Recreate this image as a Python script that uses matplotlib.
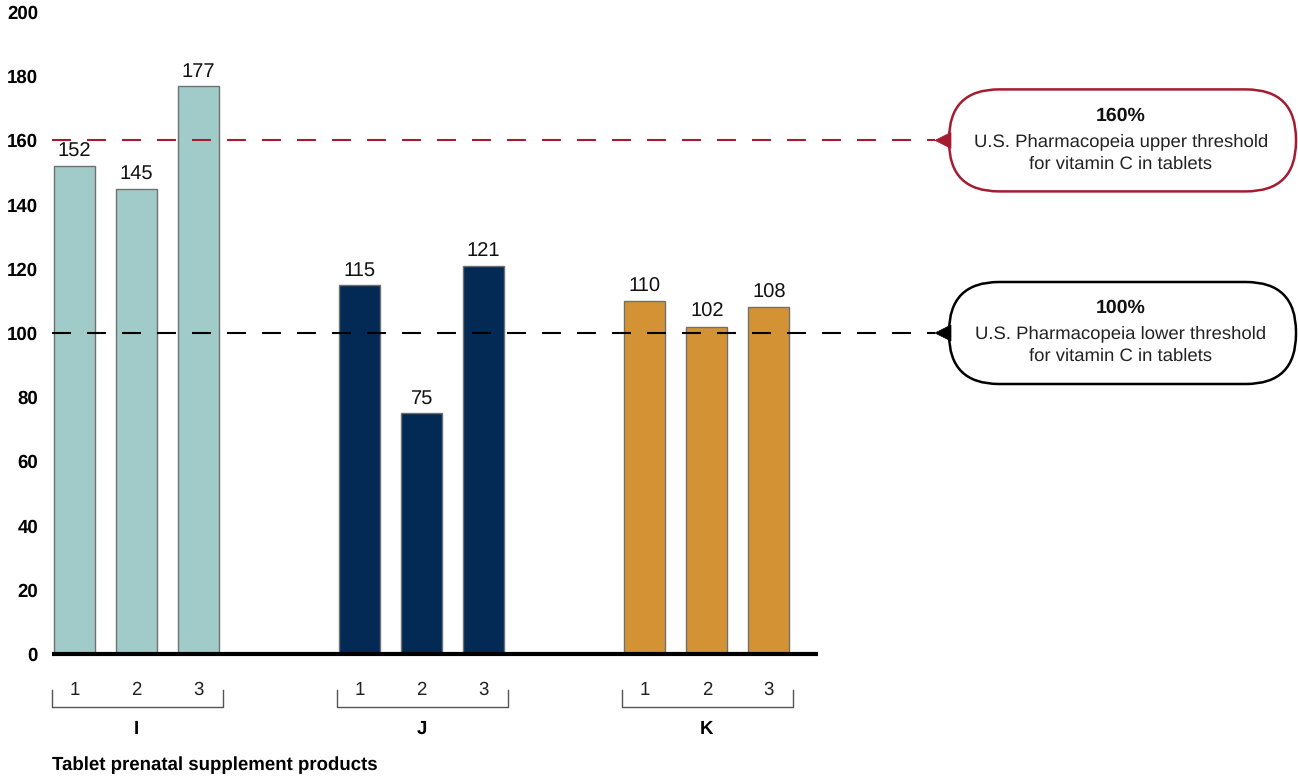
import matplotlib
matplotlib.use("Agg")
import matplotlib.pyplot as plt
from matplotlib.patches import FancyBboxPatch, Polygon

plt.rcParams['font.family'] = ['Liberation Sans', 'DejaVu Sans']
plt.rcParams['text.hinting'] = 'no_hinting'

groups = ["I", "J", "K"]
products = ["1", "2", "3"]
values = [[152, 145, 177], [115, 75, 121], [110, 102, 108]]
colors = ["#A1CBC8", "#022A55", "#D39335"]
yticks = [0, 20, 40, 60, 80, 100, 120, 140, 160, 180, 200]
upper_threshold = 160
lower_threshold = 100
upper_text = ["160%", "U.S. Pharmacopeia upper threshold", "for vitamin C in tablets"]
lower_text = ["100%", "U.S. Pharmacopeia lower threshold", "for vitamin C in tablets"]
xlabel = "Tablet prenatal supplement products"

W, H = 1298, 777
fig = plt.figure(figsize=(W / 100, H / 100), dpi=100)

# pixel geometry
ax_l, ax_r = 52, 940
y0_px, y200_px = 654, 12
slot = 62.0
first_center = 74.5
group_gap = 4.6

ax = fig.add_axes([ax_l / W, (H - y0_px) / H, (ax_r - ax_l) / W, (y0_px - y200_px) / H])
xmin = (ax_l - first_center) / slot
xmax = (ax_r - first_center) / slot
ax.set_xlim(xmin, xmax)
ax.set_ylim(0, 200)
for s in ax.spines.values():
    s.set_visible(False)
ax.set_xticks([])
ax.set_yticks(yticks)
ax.set_yticklabels([str(t) for t in yticks], fontweight='bold', fontsize=13.4)
ax.tick_params(axis='y', length=0, pad=10)

bw = 41 / slot
for g, (vals, col) in enumerate(zip(values, colors)):
    xs = [g * group_gap + i for i in range(len(vals))]
    ax.bar(xs, vals, width=bw, color=col, edgecolor="#707070", linewidth=1.0, zorder=2)
    for x, v in zip(xs, vals):
        ax.text(x, v + 1.6, str(v), ha='center', va='bottom', fontsize=14.5, color='#111111', zorder=4)
    for x, p in zip(xs, products):
        ax.text(x, -11.3, p, ha='center', va='center', fontsize=13.4, color='#222222', clip_on=False)
    # bracket
    xl = xs[0] - bw / 2 - 2 / slot
    xr = xs[-1] + bw / 2 + 4 / slot
    ax.plot([xl, xl, xr, xr], [-11.3, -16.5, -16.5, -11.3], color='#555555', lw=1.0, clip_on=False)
    ax.text((xs[0] + xs[-1]) / 2, -23.3, groups[g], ha='center', va='center', fontsize=13.4,
            fontweight='bold', clip_on=False)

# baseline
base_r = (818 - first_center) / slot
ax.plot([xmin, base_r], [0, 0], color='black', lw=3.0, solid_capstyle='butt', zorder=3, clip_on=False)

# threshold lines
line_end = (935 - first_center) / slot
ax.plot([xmin, line_end], [upper_threshold, upper_threshold], color='#A51C30', lw=1.5,
        linestyle=(0, (9.1, 7.7)), zorder=3, clip_on=False)
ax.plot([xmin, line_end], [lower_threshold, lower_threshold], color='black', lw=1.5,
        linestyle=(0, (9.1, 7.7)), zorder=3, clip_on=False)

ax.text(xmin, -34.6, xlabel, ha='left', va='center', fontsize=13.4, fontweight='bold', clip_on=False)

# overlay for callouts (pixel coords)
ov = fig.add_axes([0, 0, 1, 1])
ov.set_xlim(0, W)
ov.set_ylim(H, 0)
ov.axis('off')
ov.patch.set_alpha(0)


def ypx(v):
    return y0_px - v * (y0_px - y200_px) / 200


def callout(yc, color, lines):
    h = 102
    box = FancyBboxPatch((949, yc - h / 2), 347, h,
                         boxstyle="round,pad=0,rounding_size=50", fc='white', ec=color, lw=1.8)
    ov.add_patch(box)
    tri = Polygon([[935, yc], [951, yc - 8], [951, yc + 8]], closed=True, fc=color, ec=color, lw=0.5)
    ov.add_patch(tri)
    cx = 1121
    ov.text(cx, yc - 25, lines[0], ha='center', va='center', fontsize=14, fontweight='bold', color='#111111')
    ov.text(cx, yc + 1, lines[1], ha='center', va='center', fontsize=13.3, color='#222222')
    ov.text(cx, yc + 23.5, lines[2], ha='center', va='center', fontsize=13.3, color='#222222')


callout(ypx(upper_threshold), '#A51C30', upper_text)
callout(ypx(lower_threshold), 'black', lower_text)

fig.savefig("out.png", dpi=100)
